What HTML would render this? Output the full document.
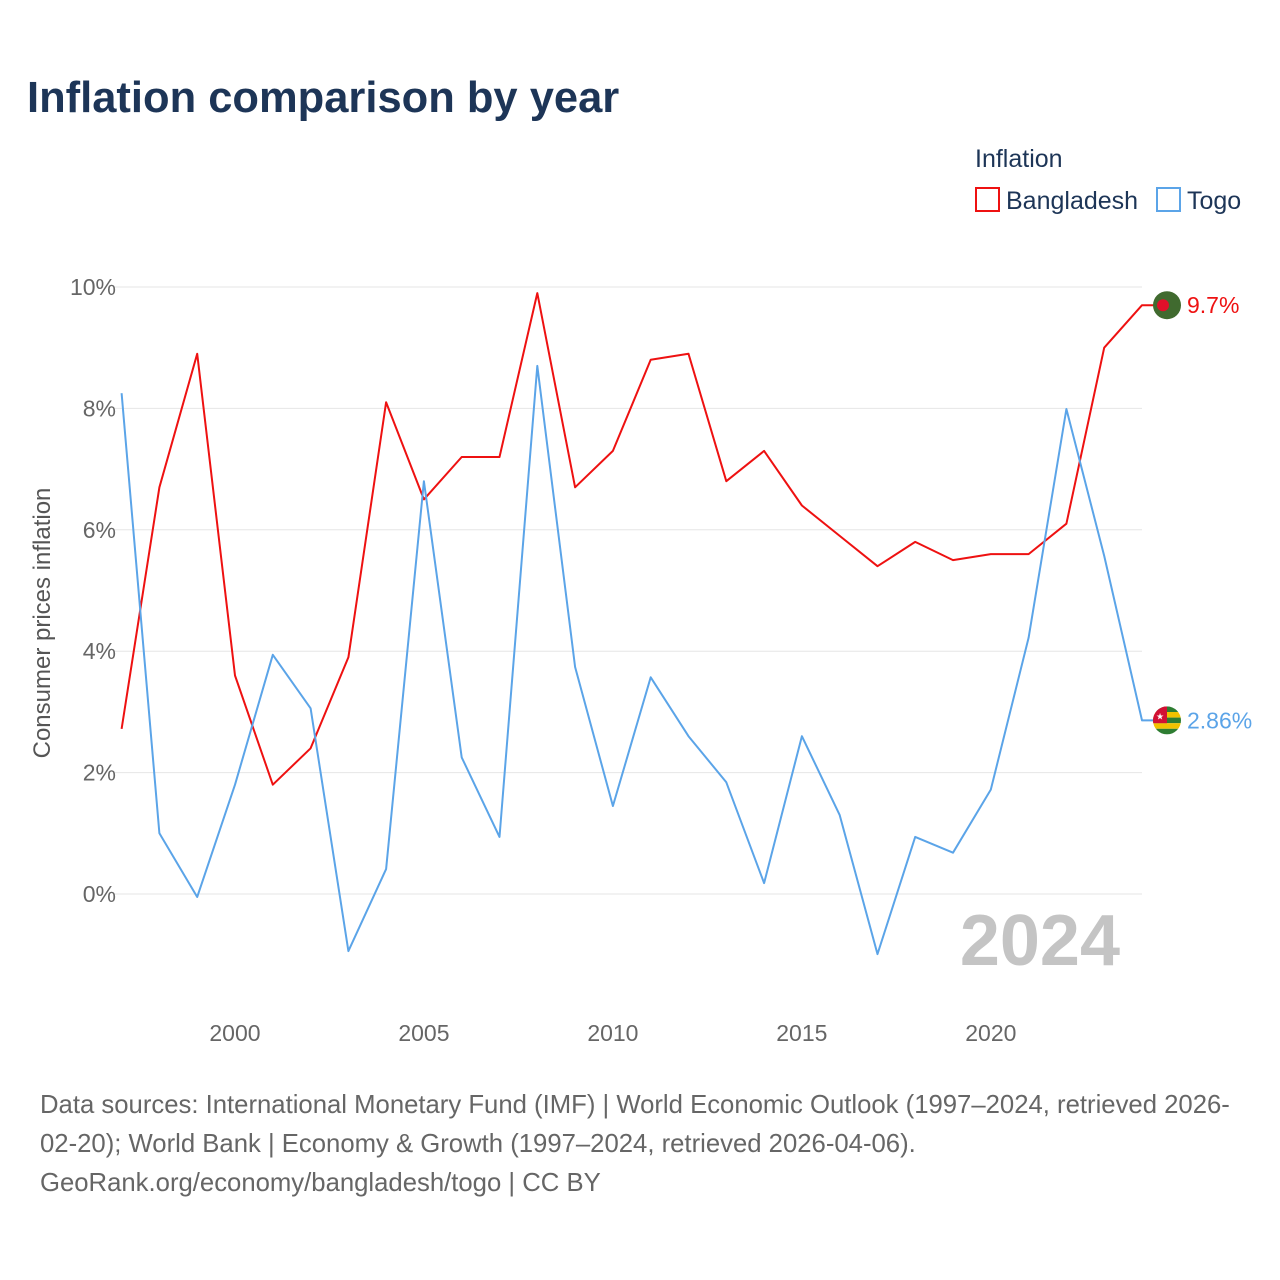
<!DOCTYPE html>
<html><head><meta charset="utf-8">
<style>
body{margin:0;background:#fff;font-family:"Liberation Sans",sans-serif;}
#wrap{position:relative;width:1280px;height:1280px;overflow:hidden;}
</style></head>
<body>
<div id="wrap">
<svg id="chart" width="1280" height="1280">
<text x="27" y="112" font-size="43.5" font-weight="bold" fill="#1d3557">Inflation comparison by year</text>
<text x="975" y="167" font-size="25" fill="#1d3557">Inflation</text>
<g>
<rect x="976" y="188" width="23" height="23" fill="none" stroke="#ee1111" stroke-width="2"/>
<text x="1006" y="209" font-size="25" fill="#1d3557">Bangladesh</text></g>
<g>
<rect x="1157" y="188" width="23" height="23" fill="none" stroke="#5ba4e8" stroke-width="2"/>
<text x="1187" y="209" font-size="25" fill="#1d3557">Togo</text></g>
<g id="grid"></g>
<text x="1120" y="965" font-size="72" font-weight="bold" fill="#c4c4c4" text-anchor="end">2024</text>
<text transform="translate(50,623) rotate(-90)" font-size="24" fill="#555" text-anchor="middle">Consumer prices inflation</text>
<g id="series"></g>
<text x="40" y="1113" font-size="25.7" fill="#666">Data sources: International Monetary Fund (IMF) | World Economic Outlook (1997–2024, retrieved 2026-</text>
<text x="40" y="1152" font-size="25.7" fill="#666">02-20); World Bank | Economy &amp; Growth (1997–2024, retrieved 2026-04-06).</text>
<text x="40" y="1191" font-size="25.7" fill="#666">GeoRank.org/economy/bangladesh/togo | CC BY</text>
</svg>
</div>
<script>
const years=[1997,1998,1999,2000,2001,2002,2003,2004,2005,2006,2007,2008,2009,2010,2011,2012,2013,2014,2015,2016,2017,2018,2019,2020,2021,2022,2023,2024];
const bangladesh=[2.72,6.7,8.9,3.6,1.8,2.4,3.9,8.1,6.5,7.2,7.2,9.9,6.7,7.3,8.8,8.9,6.8,7.3,6.4,5.9,5.4,5.8,5.5,5.6,5.6,6.1,9.0,9.7];
const togo=[8.25,1.0,-0.05,1.8,3.94,3.06,-0.94,0.41,6.8,2.25,0.94,8.7,3.74,1.45,3.57,2.6,1.84,0.18,2.6,1.3,-0.99,0.94,0.68,1.72,4.22,7.99,5.57,2.86];
const yTicks=[0,2,4,6,8,10];
const xTicks=[2000,2005,2010,2015,2020];
const NS="http://www.w3.org/2000/svg";
function xS(y){return 121.6+(y-1997)*(1142-121.6)/27;}
function yS(v){return 894-v*60.7;}
function mk(tag,attrs,parent){const e=document.createElementNS(NS,tag);for(const k in attrs)e.setAttribute(k,attrs[k]);parent.appendChild(e);return e;}
const grid=document.getElementById('grid');
yTicks.forEach(t=>{
 const l=mk('line',{x1:115,x2:1142,y1:yS(t),y2:yS(t),stroke:'#e6e6e6','stroke-width':1},grid);
 
 
 const tx=mk('text',{x:116,y:yS(t)+8,'font-size':23,fill:'#666','text-anchor':'end'},grid);
 tx.textContent=t+'%';
 
 
});
xTicks.forEach(t=>{
 const tx=mk('text',{x:xS(t),y:1041,'font-size':23,fill:'#666','text-anchor':'middle'},grid);
 tx.textContent=t;
 
 
});
const ser=document.getElementById('series');
function draw(vals,color,name,label){
 let d=vals.map((v,i)=>(i?'L':'M')+xS(years[i]).toFixed(1)+','+yS(v).toFixed(1)).join(' ');
 const last=vals[vals.length-1];
 d+=' L1155,'+yS(last).toFixed(1);
 const p=mk('path',{d:d,fill:'none',stroke:color,'stroke-width':2,'stroke-linejoin':'round'},ser);
 
 
 const t=mk('text',{x:1187,y:yS(last)+8,'font-size':23,fill:color},ser);
 t.textContent=label;
 
 
 return yS(last);
}
const by=draw(bangladesh,'#ee1111','bangladesh','9.7%');
const ty=draw(togo,'#5ba4e8','togo','2.86%');
const f1=mk('g',{},ser);


mk('circle',{cx:1167,cy:by,r:14,fill:'#406a2f'},f1);
mk('circle',{cx:1163,cy:by,r:6,fill:'#e0102a'},f1);
const f2=mk('g',{},ser);


const cp=mk('clipPath',{id:'tc'},f2);mk('circle',{cx:1167,cy:ty,r:14},cp);
const g2=mk('g',{'clip-path':'url(#tc)'},f2);
for(let i=0;i<5;i++)mk('rect',{x:1153,y:ty-14+i*5.6,width:28,height:5.6,fill:i%2?'#f2c200':'#2e7d32'},g2);
mk('rect',{x:1153,y:ty-14,width:14,height:16.8,fill:'#d21034'},g2);
mk('text',{x:1160,y:ty-1,'font-size':9,fill:'#fff','text-anchor':'middle'},g2).textContent='★';
</script>
</body></html>
